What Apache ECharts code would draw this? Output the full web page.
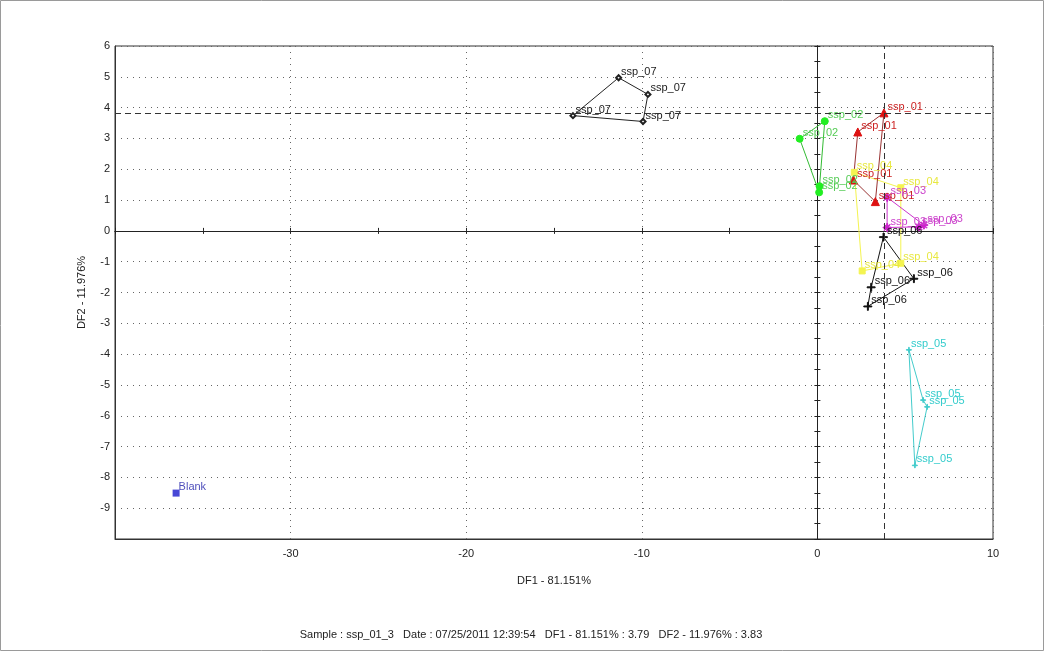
<!DOCTYPE html>
<html>
<head>
<meta charset="utf-8">
<script src="https://cdn.jsdelivr.net/npm/echarts@6/dist/echarts.min.js"></script>
<style>html,body{margin:0;padding:0;background:#fff;}#c{width:1044px;height:651px;}</style>
</head>
<body>
<div id="c"></div>
<script>
// ---- data ----
const ssp07 = [[-13.92, 3.74], [-11.32, 4.97], [-9.65, 4.43], [-9.93, 3.55]];
const ssp01 = [[3.79, 3.83], [2.30, 3.21], [2.05, 1.65], [3.30, 0.95]];
const ssp02 = [[0.42, 3.56], [-1.01, 2.99], [0.10, 1.25], [0.12, 1.45]];
const ssp03 = [[3.97, 1.09], [6.06, 0.19], [5.77, 0.13], [3.97, 0.11]];
const ssp04 = [[2.10, 1.90], [2.55, -1.30], [4.75, -1.05], [4.75, 1.40]];
const ssp05 = [[5.21, -3.86], [6.02, -5.49], [6.25, -5.71], [5.55, -7.61]];
const ssp06 = [[3.76, -0.20], [5.49, -1.55], [2.87, -2.45], [3.06, -1.83]];
const blank = [[-36.52, -8.51]];
const selectedX = 3.79;
const selectedY = 3.83;
const xTitle = 'DF1 - 81.151%';
const yTitle = 'DF2 - 11.976%';
const infoText = 'Sample : ssp_01_3   Date : 07/25/2011 12:39:54   DF1 - 81.151% : 3.79   DF2 - 11.976% : 3.83';

const FONT = '"Liberation Sans", Arial, sans-serif';

function closed(arr) {
  return arr.map(v => ({ value: v }))
    .concat([{ value: arr[0], symbol: 'none', symbolSize: 0, label: { show: false } }]);
}

const plusPath = 'path://M4.5,0h1.2v10h-1.2zM0,4.5h10v1.2h-10z';
const starPath = 'path://M4.5,0h1.2v10h-1.2zM0,4.5h10v1.2h-10zM1,1.6L1.6,1L9,8.4L8.4,9zM8.4,1L9,1.6L1.6,9L1,8.4z';

function group(name, data, lineColor, markColor, labelColor, symbol, size) {
  return {
    name: name,
    type: 'line',
    xAxisIndex: 0, yAxisIndex: 0,
    data: closed(data),
    symbol: symbol,
    symbolSize: size,
    showAllSymbol: true,
    lineStyle: { color: lineColor, width: 1 },
    itemStyle: { color: markColor, borderColor: markColor, borderWidth: 1 },
    label: {
      show: true, position: 'right', distance: 0, offset: [-1, -6],
      formatter: '{a}', color: labelColor, fontSize: 11, fontFamily: FONT
    },
    emphasis: { disabled: true },
    z: 3
  };
}

const chart = echarts.init(document.getElementById('c'), null, { renderer: 'canvas' });

const baseX = { type: 'value', min: -40, max: 10, gridIndex: 0 };
const baseY = { type: 'value', min: -10, max: 6, gridIndex: 0 };

chart.setOption({
  animation: false,
  backgroundColor: '#fff',
  grid: { left: 115, top: 46, right: 51, bottom: 112, show: true, borderColor: '#333', borderWidth: 1 },
  xAxis: [
    Object.assign({}, baseX, {
      interval: 10, position: 'bottom',
      axisLine: { onZero: false, lineStyle: { color: '#333' } },
      axisTick: { show: false },
      axisLabel: { showMinLabel: false, color: '#222', fontSize: 11, fontFamily: FONT, margin: 9 },
      splitLine: { show: true, lineStyle: { type: [1, 5], color: '#666' } },
      name: xTitle, nameLocation: 'middle', nameGap: 36,
      nameTextStyle: { color: '#222', fontSize: 11, fontFamily: FONT }
    }),
    Object.assign({}, baseX, {
      interval: 5, position: 'bottom',
      axisLine: { onZero: true, onZeroAxisIndex: 0, lineStyle: { color: '#222' } },
      axisTick: { show: true, inside: true, length: 3, lineStyle: { color: '#222' } },
      axisLabel: { show: false }, splitLine: { show: false }
    }),
    Object.assign({}, baseX, {
      interval: 5, position: 'bottom',
      axisLine: { onZero: true, onZeroAxisIndex: 0, lineStyle: { color: '#222' } },
      axisTick: { show: true, inside: false, length: 3, lineStyle: { color: '#222' } },
      axisLabel: { show: false }, splitLine: { show: false }
    })
  ],
  yAxis: [
    Object.assign({}, baseY, {
      interval: 1, position: 'left',
      axisLine: { onZero: false, lineStyle: { color: '#333' } },
      axisTick: { show: false },
      axisLabel: { showMinLabel: false, color: '#222', fontSize: 11, fontFamily: FONT, margin: 5 },
      splitLine: { show: true, lineStyle: { type: [1, 5], color: '#666' } },
      name: yTitle, nameLocation: 'middle', nameGap: 28, nameRotate: 90,
      nameTextStyle: { color: '#222', fontSize: 11, fontFamily: FONT }
    }),
    Object.assign({}, baseY, {
      interval: 0.5, position: 'left',
      axisLine: { onZero: true, onZeroAxisIndex: 0, lineStyle: { color: '#222' } },
      axisTick: { show: true, inside: true, length: 3, lineStyle: { color: '#222' } },
      axisLabel: { show: false }, splitLine: { show: false }
    }),
    Object.assign({}, baseY, {
      interval: 0.5, position: 'left',
      axisLine: { onZero: true, onZeroAxisIndex: 0, lineStyle: { color: '#222' } },
      axisTick: { show: true, inside: false, length: 3, lineStyle: { color: '#222' } },
      axisLabel: { show: false }, splitLine: { show: false }
    })
  ],
  series: [
    group('ssp_07', ssp07, '#222', '#222', '#222', 'emptyDiamond', 5),
    group('ssp_04', ssp04, '#f4f450', '#f4f450', '#e8e840', 'rect', 6),
    group('ssp_02', ssp02, '#33bb33', '#22ee22', '#55cc55', 'circle', 7),
    group('ssp_01', ssp01, '#993333', '#dd1111', '#cc2222', 'triangle', 8),
    group('ssp_03', ssp03, '#cc33cc', '#cc22cc', '#cc44cc', starPath, 8),
    group('ssp_06', ssp06, '#111', '#111', '#111', plusPath, 8),
    group('ssp_05', ssp05, '#44cccc', '#44cccc', '#33cccc', plusPath, 5),
    {
      name: 'Blank', type: 'scatter', xAxisIndex: 0, yAxisIndex: 0,
      data: blank, symbol: 'rect', symbolSize: 7,
      itemStyle: { color: '#1a1acc' },
      label: { show: true, position: 'right', distance: 0, offset: [-1, -6], formatter: '{a}',
               color: '#2222aa', fontSize: 11, fontFamily: FONT },
      emphasis: { disabled: true },
      markLine: {
        silent: true, symbol: 'none', label: { show: false },
        lineStyle: { type: [6, 4], color: '#333', width: 1 },
        data: [{ xAxis: selectedX }, { yAxis: selectedY }]
      },
      z: 3
    }
  ],
  graphic: [
    { type: 'rect', shape: { x: 0.5, y: 0.5, width: 1043, height: 650 },
      style: { fill: 'none', stroke: '#9a9a9a', lineWidth: 1 }, silent: true },
    { type: 'text', x: 531, y: 635,
      style: { text: infoText, fill: '#222', font: '11px ' + FONT, textAlign: 'center', textVerticalAlign: 'middle' } }
  ]
});
</script>
</body>
</html>
